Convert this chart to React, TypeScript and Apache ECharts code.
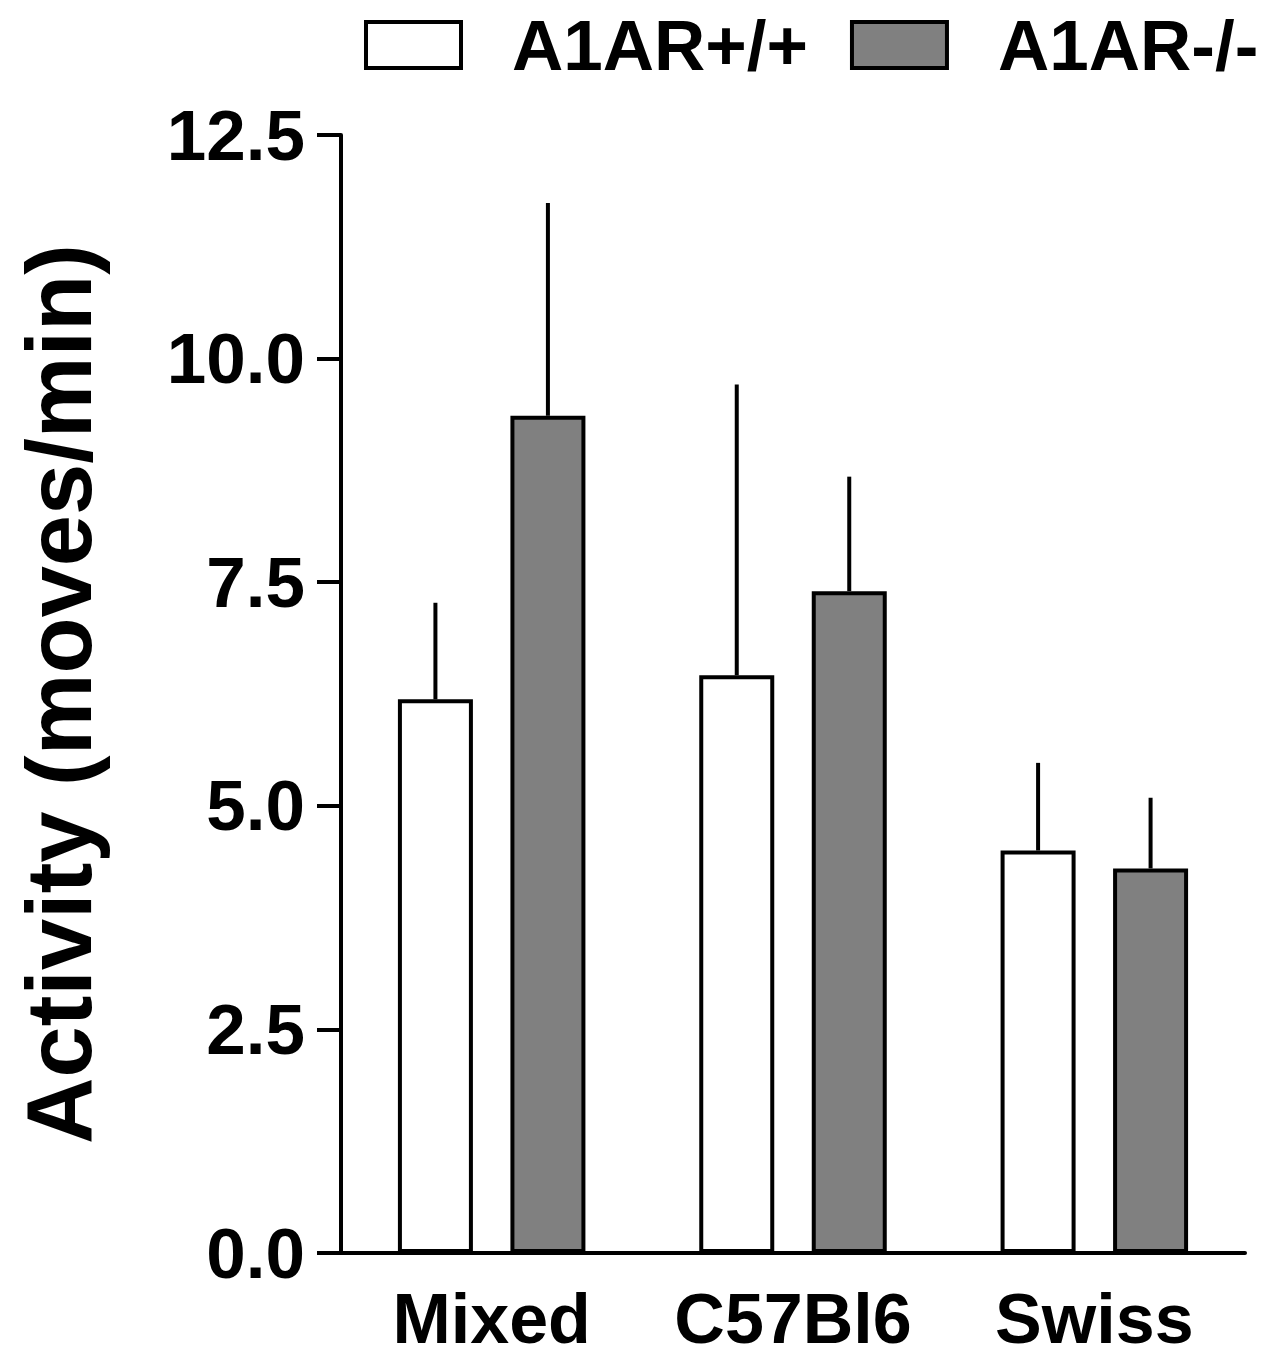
import React, { useEffect, useRef } from "react";
import * as echarts from "echarts";

const categories = ["Mixed", "C57Bl6", "Swiss"];
const seriesNames = ["A1AR+/+", "A1AR-/-"];
const wildTypeMeans = [6.19, 6.46, 4.5];
const wildTypeUpper = [7.27, 9.71, 5.48];
const knockoutMeans = [9.36, 7.4, 4.3];
const knockoutUpper = [11.74, 8.68, 5.09];
const yTicks = [0, 2.5, 5, 7.5, 10, 12.5];

const FONT = "'Liberation Sans', Arial, Helvetica, sans-serif";
const BAR_W = 75;
const BAR_GAP = 37.5;

function errorSeries(means: number[], upper: number[], offset: number) {
  return {
    type: "custom",
    silent: true,
    z: 1,
    data: categories.map((c, i) => [i, means[i], upper[i]]),
    renderItem: (params: any, api: any) => {
      const x = api.coord([api.value(0), 0])[0] + offset;
      const y0 = api.coord([api.value(0), api.value(1)])[1];
      const y1 = api.coord([api.value(0), api.value(2)])[1];
      return {
        type: "line",
        shape: { x1: x, y1: y0, x2: x, y2: y1 },
        style: { stroke: "#000", lineWidth: 4 },
      };
    },
  };
}

export default function App() {
  const ref = useRef<HTMLDivElement>(null);
  useEffect(() => {
    const chart = echarts.init(ref.current!, null, { renderer: "svg" });
    const off = (BAR_W + BAR_GAP) / 2;
    chart.setOption({
      animation: false,
      backgroundColor: "#fff",
      legend: {
        left: 359,
        top: 0,
        width: 1100,
        orient: "horizontal",
        itemWidth: 95,
        itemHeight: 46,
        itemGap: 42,
        icon: "rect",
        data: seriesNames,
        textStyle: {
          fontFamily: FONT,
          fontWeight: "bold",
          fontSize: 71,
          lineHeight: 80,
          color: "#000",
          padding: [0, 0, 0, 46],
        },
        itemStyle: { borderColor: "#000", borderWidth: 4 },
      },
      grid: { left: 341, right: 42, top: 135, bottom: 108 },
      xAxis: {
        type: "category",
        data: categories,
        axisLine: { lineStyle: { color: "#000", width: 4 } },
        axisTick: { show: false },
        axisLabel: {
          interval: 0,
          fontFamily: FONT,
          fontWeight: "bold",
          fontSize: 70,
          lineHeight: 64,
          color: "#000",
          margin: 34,
        },
      },
      yAxis: {
        type: "value",
        min: 0,
        max: 12.5,
        interval: 2.5,
        name: "Activity (moves/min)",
        nameLocation: "middle",
        nameRotate: 90,
        nameGap: 236,
        nameTextStyle: {
          fontFamily: FONT,
          fontWeight: "bold",
          fontSize: 92,
          color: "#000",
        },
        splitLine: { show: false },
        axisLine: { show: true, lineStyle: { color: "#000", width: 4 } },
        axisTick: { show: true, length: 24, lineStyle: { color: "#000", width: 4 } },
        axisLabel: {
          fontFamily: FONT,
          fontWeight: "bold",
          fontSize: 71,
          color: "#000",
          margin: 36,
          formatter: (v: number) => (yTicks.includes(v) ? v.toFixed(1) : ""),
        },
      },
      series: [
        {
          name: seriesNames[0],
          type: "bar",
          data: wildTypeMeans,
          barWidth: BAR_W,
          barGap: "50%",
          z: 2,
          itemStyle: { color: "#ffffff", borderColor: "#000", borderWidth: 4 },
        },
        {
          name: seriesNames[1],
          type: "bar",
          data: knockoutMeans,
          barWidth: BAR_W,
          barGap: "50%",
          z: 2,
          itemStyle: { color: "#808080", borderColor: "#000", borderWidth: 4 },
        },
        errorSeries(wildTypeMeans, wildTypeUpper, -off),
        errorSeries(knockoutMeans, knockoutUpper, off),
      ],
    });
    return () => chart.dispose();
  }, []);
  return <div ref={ref} style={{ width: 1287, height: 1361, position: "absolute", left: 0, top: 0 }} />;
}
